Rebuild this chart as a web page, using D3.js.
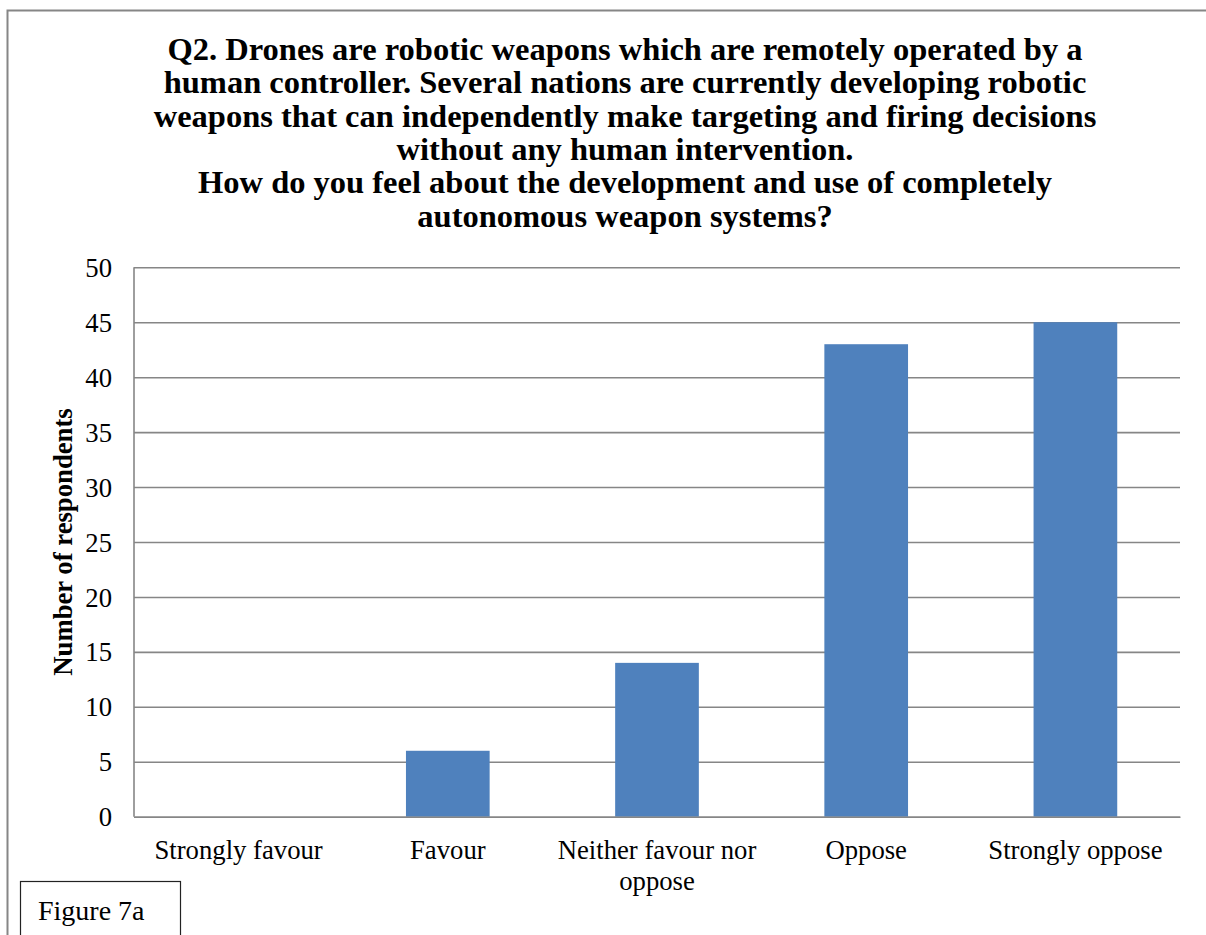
<!DOCTYPE html>
<html>
<head>
<meta charset="utf-8">
<script src="https://cdn.jsdelivr.net/npm/d3@7"></script>
<style>
  html, body { margin: 0; padding: 0; background: #fff; }
  svg { display: block; font-family: "Liberation Serif", "Times New Roman", serif; }
</style>
</head>
<body>
<svg id="chart" width="1206" height="935"></svg>
<script>
// Survey responses, Q2
const categories = ["Strongly favour", "Favour", "Neither favour nor oppose", "Oppose", "Strongly oppose"];
const respondents = [0, 6, 14, 43, 45];
const yTicks = [0, 5, 10, 15, 20, 25, 30, 35, 40, 45, 50];
const titleLines = [
  "Q2. Drones are robotic weapons which are remotely operated by a",
  "human controller. Several nations are currently developing robotic",
  "weapons that can independently make targeting and firing decisions",
  "without any human intervention.",
  "How do you feel about the development and use of completely",
  "autonomous weapon systems?"
];
const yTitle = "Number of respondents";
const figureLabel = "Figure 7a";

const svg = d3.select("#chart");
const plot = { left: 134, right: 1180, top: 267.3, bottom: 816.7 };
const gridColor = "#868686";
const barColor = "#4F81BD";

// outer chart frame
svg.append("rect")
  .attr("x", 7.5).attr("y", 10.5)
  .attr("width", 1240).attr("height", 960)
  .attr("fill", "#fff")
  .attr("stroke", gridColor).attr("stroke-width", 2);

const x = d3.scaleBand()
  .domain(categories)
  .range([plot.left, plot.right])
  .paddingInner(0.6)
  .paddingOuter(0.3);

const y = d3.scaleLinear()
  .domain([0, 50])
  .range([plot.bottom, plot.top]);

// title
svg.append("text")
  .attr("text-anchor", "middle")
  .attr("font-weight", "bold")
  .attr("font-size", 32.5)
  .attr("fill", "#000")
  .selectAll("tspan")
  .data(titleLines)
  .join("tspan")
  .attr("x", 625)
  .attr("y", (d, i) => 60 + i * 33.35)
  .text(d => d);

// y axis with gridlines
const yAxis = svg.append("g")
  .attr("transform", `translate(${plot.left},0)`)
  .call(d3.axisLeft(y)
    .tickValues(yTicks)
    .tickSize(-(plot.right - plot.left))
    .tickPadding(22)
    .tickFormat(d3.format("d")));
yAxis.select(".domain").remove();
yAxis.selectAll(".tick line")
  .attr("stroke", gridColor)
  .attr("stroke-width", 1.6);
yAxis.selectAll(".tick text")
  .attr("font-family", "Liberation Serif, Times New Roman, serif")
  .attr("font-size", 26.7)
  .attr("fill", "#000")
  .attr("dy", "0.34em");

// vertical axis line
svg.append("line")
  .attr("x1", plot.left).attr("x2", plot.left)
  .attr("y1", plot.top).attr("y2", plot.bottom)
  .attr("stroke", gridColor).attr("stroke-width", 1.6);

// bars
svg.append("g")
  .selectAll("rect")
  .data(categories.map((c, i) => ({ c, v: respondents[i] })))
  .join("rect")
  .attr("x", d => x(d.c))
  .attr("y", d => y(d.v))
  .attr("width", x.bandwidth())
  .attr("height", d => y(0) - y(d.v))
  .attr("fill", barColor);

// x axis
const xAxis = svg.append("g")
  .attr("transform", `translate(0,${plot.bottom})`)
  .call(d3.axisBottom(x).tickSize(0).tickPadding(23));
xAxis.select(".domain")
  .attr("stroke", gridColor).attr("stroke-width", 1.6);
xAxis.selectAll(".tick text")
  .attr("font-family", "Liberation Serif, Times New Roman, serif")
  .attr("font-size", 26.7)
  .attr("fill", "#000")
  .call(wrap, x.step() * 0.97);

function wrap(texts, width) {
  texts.each(function () {
    const text = d3.select(this);
    const words = text.text().split(/\s+/);
    const yPos = text.attr("y");
    text.text(null);
    let line = [];
    let lineNo = 0;
    let tspan = text.append("tspan").attr("x", 0).attr("y", yPos).attr("dy", "0.71em");
    for (const w of words) {
      line.push(w);
      tspan.text(line.join(" "));
      if (tspan.node().getComputedTextLength() > width && line.length > 1) {
        line.pop();
        tspan.text(line.join(" "));
        line = [w];
        lineNo++;
        tspan = text.append("tspan")
          .attr("x", 0).attr("y", yPos)
          .attr("dy", (0.71 + lineNo * 1.17) + "em")
          .text(w);
      }
    }
  });
}

// y axis title
svg.append("text")
  .attr("transform", `translate(72,${(plot.top + plot.bottom) / 2}) rotate(-90)`)
  .attr("text-anchor", "middle")
  .attr("font-weight", "bold")
  .attr("font-size", 26.7)
  .attr("fill", "#000")
  .text(yTitle);

// figure label box
svg.append("rect")
  .attr("x", 20.5).attr("y", 881.5)
  .attr("width", 160).attr("height", 80)
  .attr("fill", "#fff")
  .attr("stroke", "#222").attr("stroke-width", 1.2);
svg.append("text")
  .attr("x", 38).attr("y", 920)
  .attr("font-size", 28)
  .attr("fill", "#000")
  .text(figureLabel);
</script>
</body>
</html>
